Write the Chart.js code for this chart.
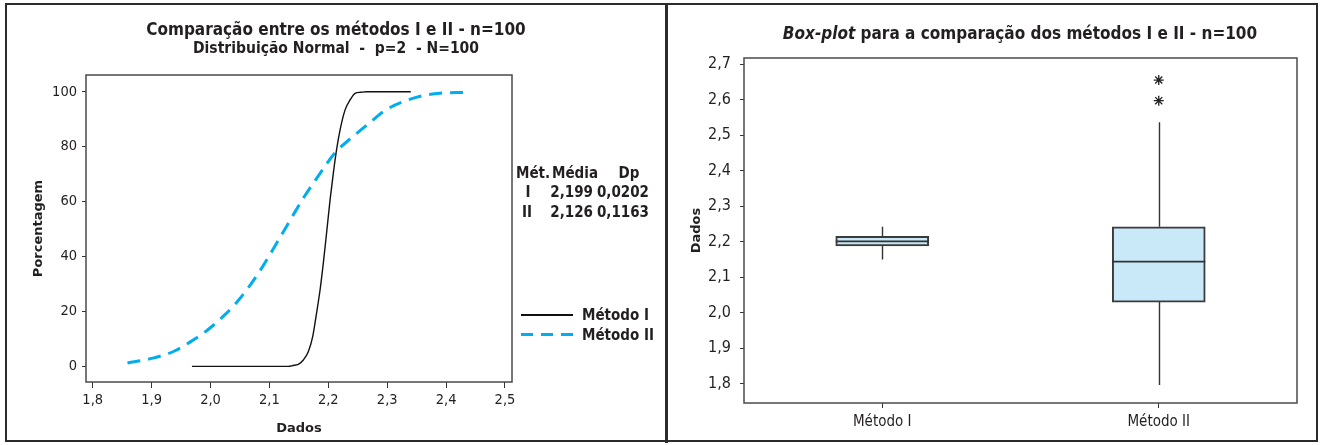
<!DOCTYPE html>
<html>
<head>
<meta charset="utf-8">
<script src="https://cdn.jsdelivr.net/npm/chart.js@4.4.1/dist/chart.umd.min.js"></script>
<style>
  body { margin: 0; background: #fff; }
  #page { position: relative; width: 1323px; height: 445px; overflow: hidden;
          font-family: 'DejaVu Sans Condensed', 'DejaVu Sans', sans-serif; font-stretch: condensed; color: #231f20; }
  .frame { position: absolute; left: 5px; top: 3px; width: 1309px; height: 435px; border: 2.5px solid #2b2b2b; }
  .divider { position: absolute; left: 665px; top: 3px; width: 2.5px; height: 440px; background: #2b2b2b; }
  canvas { position: absolute; top: 0; }
  .t { position: absolute; white-space: pre; font-weight: bold; line-height: 1; transform: translate(-50%, -50%); }
  .l { transform: translate(0, -50%); }
  .r { transform: translate(-100%, -50%); }
  .sw { position: absolute; width: 52px; }
</style>
</head>
<body>
<div id="page">
  <canvas id="cdf" width="665" height="445" style="left:0"></canvas>
  <canvas id="box" width="658" height="445" style="left:665px"></canvas>
  <div class="frame"></div>
  <div class="divider"></div>

  <div class="t" style="left:336px;top:29px;font-size:17px">Comparação entre os métodos I e II - n=100</div>
  <div class="t" style="left:336px;top:49px;font-size:15.5px">Distribuição Normal  -  p=2  - N=100</div>

  <div class="t l" style="left:516px;top:173px;font-size:15px">Mét.</div>
  <div class="t" style="left:575px;top:173px;font-size:15px">Média</div>
  <div class="t" style="left:629px;top:173px;font-size:15px">Dp</div>
  <div class="t" style="left:528px;top:192px;font-size:15px">I</div>
  <div class="t r" style="left:593px;top:192px;font-size:15px">2,199</div>
  <div class="t r" style="left:649px;top:192px;font-size:15px">0,0202</div>
  <div class="t" style="left:527px;top:212px;font-size:15px">II</div>
  <div class="t r" style="left:593px;top:212px;font-size:15px">2,126</div>
  <div class="t r" style="left:649px;top:212px;font-size:15px">0,1163</div>

  <div class="sw" style="left:521px;top:314px;height:2px;background:#111"></div>
  <div class="t l" style="left:582px;top:315px;font-size:15px">Método I</div>
  <div class="sw" style="left:521px;top:333px;height:3px;background:repeating-linear-gradient(90deg,#00aeef 0 12px,transparent 12px 20px)"></div>
  <div class="t l" style="left:582px;top:335px;font-size:15px">Método II</div>

  <div class="t" style="left:1020px;top:33px;font-size:17px"><i>Box-plot</i> para a comparação dos métodos I e II - n=100</div>
</div>
<script>
// Curva acumulada - Método I (empírica)
const metodoI_x = [1.9685, 2.132, 2.140, 2.149, 2.1576, 2.166, 2.1735, 2.180, 2.186, 2.1915, 2.197, 2.203, 2.2085, 2.214, 2.220, 2.2285, 2.237, 2.2455, 2.255, 2.265, 2.340]
const metodoI_y = [0, 0, 0.3, 0.7, 2.3, 5.3, 10.8, 19.3, 27.8, 37.5, 48.4, 60.6, 70.3, 78.8, 86.1, 93.4, 97.0, 99.4, 99.8, 100, 100]
// Curva acumulada - Método II
const metodoII_x = [1.859, 1.902, 1.938, 1.967, 1.996, 2.025, 2.046, 2.068, 2.089, 2.111, 2.136, 2.158, 2.179, 2.212, 2.237, 2.269, 2.298, 2.334, 2.377, 2.437]
const metodoII_y = [1.2, 3.0, 5.5, 9.1, 13.4, 18.9, 23.7, 29.8, 36.5, 44.4, 53.5, 61.4, 68.1, 77.9, 82.8, 88.5, 93.4, 96.9, 99.2, 99.8]
const dadosTicks = [1.8, 1.9, 2.0, 2.1, 2.2, 2.3, 2.4, 2.5]
const porcentagemTicks = [0, 20, 40, 60, 80, 100]

// Box-plot
const categorias = ['Método I', 'Método II']
const boxQ1 = [2.188, 2.030]
const boxQ3 = [2.215, 2.242]
const medianas = [2.201, 2.144]
const whiskerLow = [2.150, 1.797]
const whiskerHigh = [2.242, 2.536]
const outlierCat = ['Método II', 'Método II']
const outlierVal = [2.655, 2.597]
const boxTicks = [1.8, 1.9, 2.0, 2.1, 2.2, 2.3, 2.4, 2.5, 2.6, 2.7]

const TXT = '#231f20'
const condensed = "'DejaVu Sans Condensed', 'DejaVu Sans', sans-serif"
const wide = "'DejaVu Sans', sans-serif"
const virgula = v => v.toFixed(1).replace('.', ',')

const frame = {
    id: 'frame',
    afterDraw(chart) {
        const { ctx, chartArea: a } = chart
        ctx.save()
        ctx.strokeStyle = '#4a4a4a'
        ctx.lineWidth = 1.5
        ctx.strokeRect(a.left, a.top, a.right - a.left, a.bottom - a.top)
        ctx.restore()
    }
}

function fixedTicks(arr) {
    return scale => { scale.ticks = arr.map(v => ({ value: v })) }
}

new Chart(document.getElementById('cdf'), {
    type: 'scatter',
    data: {
        datasets: [{
            label: 'Método I',
            data: metodoI_x.map((x, i) => ({ x: x, y: metodoI_y[i] })),
            showLine: true,
            borderColor: '#111',
            borderWidth: 1.4,
            pointRadius: 0,
            cubicInterpolationMode: 'monotone'
        }, {
            label: 'Método II',
            data: metodoII_x.map((x, i) => ({ x: x, y: metodoII_y[i] })),
            showLine: true,
            borderColor: '#00aeef',
            borderWidth: 3,
            borderDash: [13, 8],
            pointRadius: 0,
            cubicInterpolationMode: 'monotone'
        }]
    },
    options: {
        responsive: false,
        animation: false,
        layout: { padding: { top: 75, right: 153, left: 0, bottom: 0 } },
        plugins: { legend: { display: false }, tooltip: { enabled: false } },
        scales: {
            x: {
                type: 'linear', min: 1.7886, max: 2.5119,
                afterBuildTicks: fixedTicks(dadosTicks),
                afterFit: s => { s.height = 63 },
                border: { display: false },
                grid: { drawOnChartArea: false, drawTicks: true, tickLength: 6, color: '#333' },
                ticks: { padding: 4, color: TXT, font: { family: condensed, size: 14.5 }, callback: virgula, maxRotation: 0 },
                title: { display: true, text: 'Dados', color: TXT, font: { family: wide, size: 13, weight: 'bold' }, padding: { top: 0, bottom: 9 } }
            },
            y: {
                type: 'linear', min: -5.7, max: 106.1,
                afterBuildTicks: fixedTicks(porcentagemTicks),
                afterFit: s => { s.width = 86 },
                border: { display: false },
                grid: { drawOnChartArea: false, drawTicks: true, tickLength: 4, color: '#333' },
                ticks: { padding: 5, color: TXT, font: { family: condensed, size: 14.5 } },
                title: { display: true, text: 'Porcentagem', color: TXT, font: { family: wide, size: 13, weight: 'bold' }, padding: { top: 31, bottom: 0 } }
            }
        }
    },
    plugins: [frame]
})

const whiskers = {
    id: 'whiskers',
    beforeDatasetsDraw(chart) {
        const { ctx, scales: { x, y } } = chart
        ctx.save()
        ctx.strokeStyle = '#333'
        ctx.lineWidth = 1.4
        categorias.forEach((c, i) => {
            const px = Math.round(x.getPixelForValue(i)) + 0.5
            ctx.beginPath()
            ctx.moveTo(px, y.getPixelForValue(boxQ3[i]))
            ctx.lineTo(px, y.getPixelForValue(whiskerHigh[i]))
            ctx.moveTo(px, y.getPixelForValue(boxQ1[i]))
            ctx.lineTo(px, y.getPixelForValue(whiskerLow[i]))
            ctx.stroke()
        })
        ctx.restore()
    },
    afterDatasetsDraw(chart) {
        const { ctx, scales: { y } } = chart
        const meta = chart.getDatasetMeta(0)
        ctx.save()
        ctx.strokeStyle = '#333'
        ctx.lineWidth = 1.8
        meta.data.forEach((bar, i) => {
            const py = y.getPixelForValue(medianas[i])
            ctx.beginPath()
            ctx.moveTo(bar.x - bar.width / 2, py)
            ctx.lineTo(bar.x + bar.width / 2, py)
            ctx.stroke()
        })
        ctx.restore()
    }
}

new Chart(document.getElementById('box'), {
    type: 'bar',
    data: {
        labels: categorias,
        datasets: [{
            label: 'Dados',
            data: boxQ1.map((q, i) => [q, boxQ3[i]]),
            backgroundColor: '#c9e9f9',
            borderColor: '#3a3a3a',
            borderWidth: 2,
            borderSkipped: false,
            barThickness: 93
        }, {
            type: 'line',
            label: 'Outliers',
            data: outlierCat.map((c, i) => ({ x: c, y: outlierVal[i] })),
            showLine: false,
            pointStyle: 'star',
            pointRadius: 5,
            borderColor: '#222',
            borderWidth: 1.3,
            backgroundColor: '#222'
        }]
    },
    options: {
        responsive: false,
        animation: false,
        layout: { padding: { top: 58, right: 26, left: 0, bottom: 0 } },
        plugins: { legend: { display: false }, tooltip: { enabled: false } },
        scales: {
            x: {
                afterFit: s => { s.height = 42 },
                border: { display: false },
                grid: { offset: false, drawOnChartArea: false, drawTicks: true, tickLength: 5, color: '#333' },
                ticks: { padding: 5, color: TXT, font: { family: condensed, size: 15 } }
            },
            y: {
                type: 'linear', min: 1.746, max: 2.717,
                afterBuildTicks: fixedTicks(boxTicks),
                afterFit: s => { s.width = 79 },
                border: { display: false },
                grid: { drawOnChartArea: false, drawTicks: true, tickLength: 4, color: '#333' },
                ticks: { padding: 9, color: TXT, font: { family: condensed, size: 16 }, callback: virgula },
                title: { display: true, text: 'Dados', color: TXT, font: { family: wide, size: 13, weight: 'bold' }, padding: { top: 24, bottom: 0 } }
            }
        }
    },
    plugins: [frame, whiskers]
})
</script>
</body>
</html>
